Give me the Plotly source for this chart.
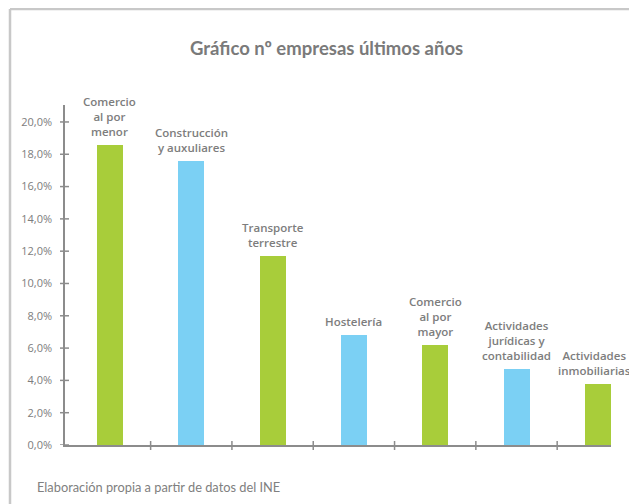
import plotly.graph_objects as go

categories = ["Comercio<br>al por<br>menor", "Construcción<br>y auxuliares", "Transporte<br>terrestre",
              "Hostelería", "Comercio<br>al por<br>mayor", "Actividades<br>jurídicas y<br>contabilidad",
              "Actividades<br>inmobiliarias"]
values = [18.6, 17.6, 11.7, 6.8, 6.2, 4.7, 3.8]
bar_colors = ["#a8cd3a", "#7bd0f4", "#a8cd3a", "#7bd0f4", "#a8cd3a", "#7bd0f4", "#a8cd3a"]
y_ticks = [0, 2, 4, 6, 8, 10, 12, 14, 16, 18, 20]
y_tick_labels = ["0,0%", "2,0%", "4,0%", "6,0%", "8,0%", "10,0%", "12,0%", "14,0%", "16,0%", "18,0%", "20,0%"]
x_boundaries = [0.5, 1.5, 2.5, 3.5, 4.5, 5.5]

title_text = "Gráfico nº empresas últimos años"
source_text = "Elaboración propia a partir de datos del INE"

# the page puts the figure 8px in from the top-left corner
OFF = 8
W, H = 637 - OFF, 504 - OFF
L, R, T, B = 65 - OFF, 611 - OFF, 105 - OFF, 445 - OFF  # plot area edges in figure px
PW, PH = R - L, B - T


def px(x):  # page x -> paper x
    return (x - OFF - L) / PW


def py(y):  # page y -> paper y
    return (B - (y - OFF)) / PH


xs = list(range(len(values)))
xr = [-0.553, 6.162]
yr = [0, 21.05]
axis_col = "#8c8c8c"
text_col = "#7d7d7d"
label_shift = [0, 0, 0, 0, 0, 0, -3]

fig = go.Figure()
fig.add_trace(go.Bar(x=xs, y=values, marker=dict(color=bar_colors, line=dict(width=0)),
                     width=0.32, hoverinfo="skip", cliponaxis=False))

for x, v, c, s in zip(xs, values, categories, label_shift):
    fig.add_annotation(x=x, y=v, text=c, showarrow=False, yanchor="bottom", yshift=4, xshift=s,
                       font=dict(family="Open Sans", size=11.5, color=text_col, weight=600),
                       align="center")

fig.add_annotation(xref="paper", yref="paper", x=px(326), y=py(48),
                   text="<b>" + title_text + "</b>", showarrow=False,
                   xanchor="center", yanchor="middle",
                   font=dict(family="Lato", size=18.5, color="#7a7a7a"))
fig.add_annotation(xref="paper", yref="paper", x=px(35), y=py(487),
                   text=source_text, showarrow=False, xanchor="left", yanchor="middle",
                   font=dict(family="Lato", size=12.8, color="#808080"))

# frame
fig.add_shape(type="line", xref="paper", yref="paper", x0=px(10), x1=px(637),
              y0=py(9), y1=py(9), line=dict(color="#c8c8c8", width=2.5))
fig.add_shape(type="line", xref="paper", yref="paper", x0=px(10), x1=px(10),
              y0=py(9), y1=py(504), line=dict(color="#c8c8c8", width=2.5))

# tick marks crossing the axis lines
for b in x_boundaries:
    fig.add_shape(type="line", xref="x", yref="paper", x0=b, x1=b, y0=py(441), y1=py(450),
                  line=dict(color=axis_col, width=1.5))
for t in y_ticks:
    fig.add_shape(type="line", xref="paper", yref="y", x0=px(60), x1=px(69), y0=t, y1=t,
                  line=dict(color=axis_col, width=1.5))

fig.update_layout(
    width=W, height=H,
    margin=dict(l=L, r=W - R, t=T, b=H - B, autoexpand=False),
    plot_bgcolor="white", paper_bgcolor="white",
    showlegend=False, bargap=0,
    xaxis=dict(range=xr, showticklabels=False, ticks="",
               showline=True, linecolor=axis_col, linewidth=1.5, showgrid=False,
               zeroline=False, fixedrange=True),
    yaxis=dict(range=yr, tickvals=y_ticks, ticktext=y_tick_labels,
               ticks="outside", ticklen=5, tickwidth=0, tickcolor="rgba(0,0,0,0)",
               ticklabelstandoff=4,
               showline=True, linecolor=axis_col, linewidth=1.5, showgrid=False,
               zeroline=False, tickfont=dict(family="Open Sans", size=11, color=text_col)),
)

fig.write_html("out.html", post_script="document.body.style.overflow='hidden';",
               config={"displayModeBar": False})
